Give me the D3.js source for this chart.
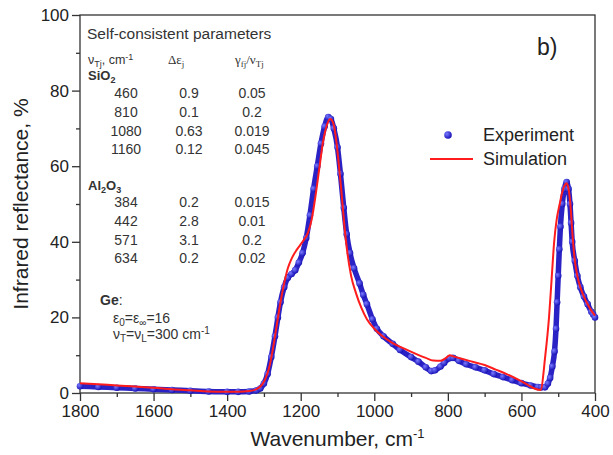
<!DOCTYPE html>
<html><head><meta charset="utf-8">
<script src="https://cdn.jsdelivr.net/npm/d3@7"></script>
<style>body{margin:0;background:#fff}svg{display:block}text{font-family:"Liberation Sans",Arial,sans-serif}</style>
</head><body><svg id="c" width="613" height="455"></svg>
<script>
// Experiment: [wavenumber cm-1, reflectance %]
const expWave = [1800,1750,1700,1650,1600,1550,1500,1450,1400,1370,1340,1320,1310,1300,1290,1280,1270,1262,1255,1245,1235,1225,1215,1205,1195,1185,1175,1165,1155,1145,1135,1125,1118,1110,1100,1092,1083,1075,1066,1055,1040,1030,1020,1005,993,975,950,930,900,880,860,845,835,820,810,795,786,770,750,725,700,675,650,625,600,575,555,545,536,528,522,516,510,506,503,500,497,494,489,483,477,472,468,465,462,455,448,440,430,420,410,405,400];
const expR    = [1.8,1.6,1.4,1.2,1.0,0.8,0.6,0.4,0.3,0.3,0.4,0.7,1.2,2.5,5,9.5,15,20,24,28,30.5,31.5,32.5,34.5,37,41,47,54,60,66,70.5,73,72.5,70,65,58,49,42,37,33,29,26,23.5,19.5,17,15,13,11.4,9.5,8.3,6.8,5.8,6,7,8,9.2,9.3,8.5,7.6,6.8,6,5,4.2,3.4,2.6,2,1.6,1.5,1.5,2.5,4,7,11,17,24,31,38,44,50,54,55.8,54,50,45,40,35,31,28,25.5,23.5,21.5,20.8,20];
// Simulation
const simWave = [1800,1750,1700,1650,1600,1550,1500,1450,1400,1370,1340,1320,1305,1295,1285,1275,1265,1255,1245,1235,1225,1210,1195,1180,1170,1160,1150,1140,1130,1120,1112,1105,1098,1090,1082,1073,1063,1050,1035,1020,1000,980,950,920,890,860,840,820,805,795,785,760,730,700,670,640,610,585,565,548,535,525,518,511,504,496,488,482,477,472,467,462,456,448,440,430,420,410,400];
const simR    = [2.6,2.3,2.0,1.7,1.4,1.0,0.7,0.4,0.3,0.3,0.5,1.0,2.2,4,7,12,18,24,29,33,35.5,38,40,42.5,46,52,59,66,70.5,72.5,71.5,68,62,54,45,37,31,26.5,22.5,19.5,17,15.2,13.2,11.8,10.5,9.3,8.6,8.5,9.3,10,9.7,9.0,8.2,7.4,6.2,5,3.6,2.3,1.2,0.8,10,20,30,40,46,50,53.5,55,55.5,54,50,43,36,31,28,25.5,23.5,21.8,20.5];
const xTicks = [1800,1600,1400,1200,1000,800,600,400];
const yTicks = [0,20,40,60,80,100];
const xMinor = [1700,1500,1300,1100,900,700,500];
const yMinor = [10,30,50,70,90];
const series = ["Experiment","Simulation"];
// parameter table
const tableTitle = "Self-consistent parameters";
const sio2Rows = [["460","0.9","0.05"],["810","0.1","0.2"],["1080","0.63","0.019"],["1160","0.12","0.045"]];
const al2o3Rows = [["384","0.2","0.015"],["442","2.8","0.01"],["571","3.1","0.2"],["634","0.2","0.02"]];

const svg = d3.select("#c");
const L=80,R=595,T=15,B=393;
const x = d3.scaleLinear().domain([1800,400]).range([L,R]);
const y = d3.scaleLinear().domain([0,100]).range([B,T]);
const axCol="#333";

// frame
svg.append("rect").attr("x",L).attr("y",T).attr("width",R-L).attr("height",B-T)
  .attr("fill","none").attr("stroke",axCol).attr("stroke-width",1.3);

const xAxis = svg.append("g").attr("transform",`translate(0,${B})`)
  .call(d3.axisBottom(x).tickValues(xTicks).tickSize(8).tickPadding(4).tickFormat(d3.format("d")));
const xAxisMin = svg.append("g").attr("transform",`translate(0,${B})`)
  .call(d3.axisBottom(x).tickValues(xMinor).tickSize(4).tickFormat(""));
const yAxis = svg.append("g").attr("transform",`translate(${L},0)`)
  .call(d3.axisLeft(y).tickValues(yTicks).tickSize(8).tickPadding(3));
const yAxisMin = svg.append("g").attr("transform",`translate(${L},0)`)
  .call(d3.axisLeft(y).tickValues(yMinor).tickSize(4).tickFormat(""));
[xAxis,xAxisMin,yAxis,yAxisMin].forEach(g=>{
  g.select(".domain").remove();
  g.selectAll("line").attr("stroke",axCol).attr("stroke-width",1.3);
  g.selectAll("text").attr("fill","#222").style("font-size","17px").style("font-family","Liberation Sans, Arial, sans-serif");
});

svg.append("text").attr("x",(L+R)/2).attr("y",446).attr("text-anchor","middle")
  .style("font-size","21px").attr("fill","#222")
  .html('Wavenumber, cm<tspan dy="-8" font-size="13px">-1</tspan>');
svg.append("text").attr("transform",`translate(28,${(T+B)/2}) rotate(-90)`).attr("text-anchor","middle")
  .style("font-size","21px").attr("fill","#222").text("Infrared reflectance, %");

// data
const expData = expWave.map((w,i)=>({w, r:expR[i]}));
const simData = simWave.map((w,i)=>({w, r:simR[i]}));
const line = d3.line().x(d=>x(d.w)).y(d=>y(d.r)).curve(d3.curveMonotoneX);

const defs = svg.append("defs");
const grad = defs.append("radialGradient").attr("id","ball").attr("cx","35%").attr("cy","35%").attr("r","65%");
grad.append("stop").attr("offset","0%").attr("stop-color","#7a7aff");
grad.append("stop").attr("offset","100%").attr("stop-color","#1a14b8");

svg.append("path").datum(expData).attr("d",line).attr("fill","none")
  .attr("stroke","#2a22c4").attr("stroke-width",5.5).attr("stroke-linejoin","round");
svg.append("g").selectAll("circle").data(expData).join("circle")
  .attr("cx",d=>x(d.w)).attr("cy",d=>y(d.r)).attr("r",3.3).attr("fill","url(#ball)");
svg.append("path").datum(simData).attr("d",line).attr("fill","none")
  .attr("stroke","#ff1c1c").attr("stroke-width",2);

// legend
svg.append("circle").attr("cx",448).attr("cy",135).attr("r",3.8).attr("fill","url(#ball)");
svg.append("line").attr("x1",430).attr("x2",473).attr("y1",159).attr("y2",159).attr("stroke","#ff1c1c").attr("stroke-width",2);
svg.append("text").attr("x",483).attr("y",141).style("font-size","18px").attr("fill","#222").text(series[0]);
svg.append("text").attr("x",483).attr("y",165).style("font-size","18px").attr("fill","#222").text(series[1]);
svg.append("text").attr("x",537).attr("y",55).style("font-size","23px").attr("fill","#222").text("b)");

// table
const tc="#333";
svg.append("text").attr("x",87).attr("y",39).style("font-size","15.5px").attr("fill",tc).text(tableTitle);
svg.append("text").attr("x",88).attr("y",64).style("font-size","12.5px").attr("fill",tc)
  .html('ν<tspan dy="3" font-size="9px">Tj</tspan><tspan dy="-3">, cm</tspan><tspan dy="-4" font-size="9px">-1</tspan>');
svg.append("text").attr("x",168).attr("y",64).style("font-size","13px").style("font-family","Liberation Serif, serif").attr("fill",tc)
  .html('Δε<tspan dy="3" font-size="9px">j</tspan>');
svg.append("text").attr("x",235).attr("y",64).style("font-size","13px").style("font-family","Liberation Serif, serif").attr("fill",tc)
  .html('γ<tspan dy="3" font-size="9px">fj</tspan><tspan dy="-3">/ν</tspan><tspan dy="3" font-size="9px">Tj</tspan>');
svg.append("text").attr("x",88).attr("y",80).style("font-size","13px").style("font-weight","bold").attr("fill",tc)
  .html('SiO<tspan dy="3" font-size="9px">2</tspan>');
const colX=[126,189,252];
function rows(data, y0){
  data.forEach((r,i)=>{
    r.forEach((v,j)=>{
      svg.append("text").attr("x",colX[j]).attr("y",y0+i*18.8).attr("text-anchor","middle")
        .style("font-size","14px").attr("fill",tc).text(v);
    });
  });
}
rows(sio2Rows,98);
svg.append("text").attr("x",88).attr("y",190).style("font-size","13px").style("font-weight","bold").attr("fill",tc)
  .html('Al<tspan dy="3" font-size="9px">2</tspan><tspan dy="-3">O</tspan><tspan dy="3" font-size="9px">3</tspan>');
rows(al2o3Rows,207);
svg.append("text").attr("x",100).attr("y",305).style("font-size","14px").attr("fill",tc)
  .html('<tspan font-weight="bold">Ge</tspan>:');
svg.append("text").attr("x",113).attr("y",323).style("font-size","14px").attr("fill",tc)
  .html('ε<tspan dy="3" font-size="10px">0</tspan><tspan dy="-3">=ε</tspan><tspan dy="3" font-size="10px">∞</tspan><tspan dy="-3">=16</tspan>');
svg.append("text").attr("x",113).attr("y",339).style("font-size","14px").attr("fill",tc)
  .html('ν<tspan dy="3" font-size="10px">T</tspan><tspan dy="-3">=ν</tspan><tspan dy="3" font-size="10px">L</tspan><tspan dy="-3">=300 cm</tspan><tspan dy="-5" font-size="10px">-1</tspan>');
</script></body></html>
